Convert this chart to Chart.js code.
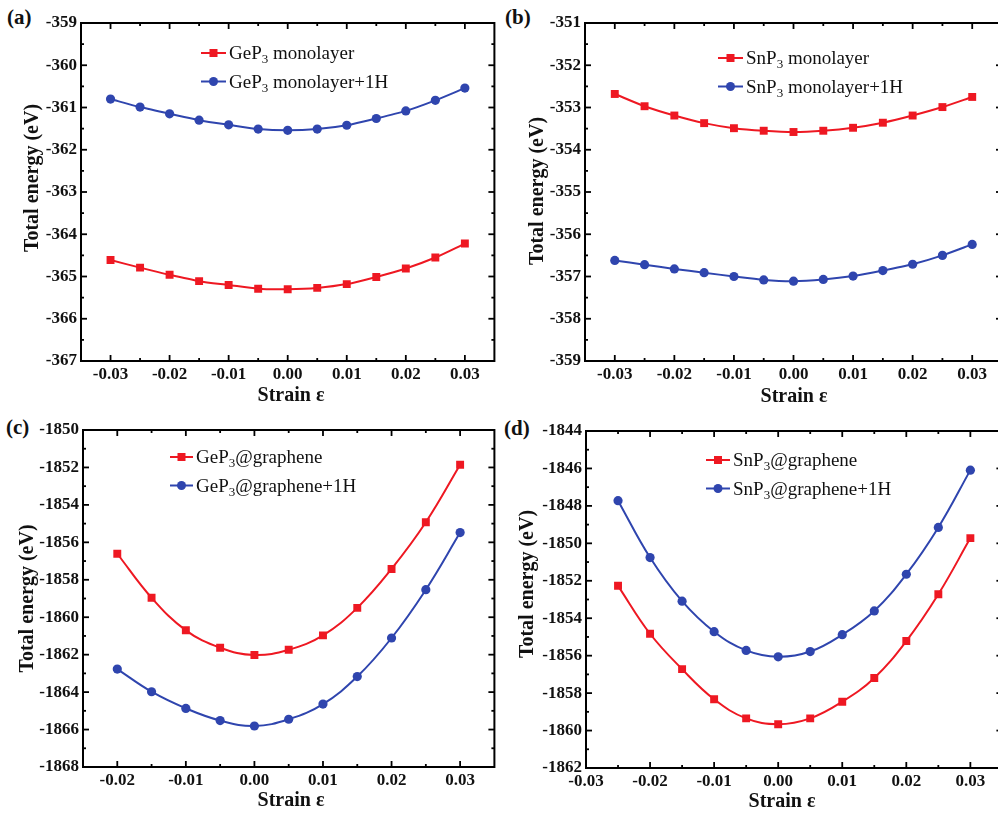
<!DOCTYPE html>
<html>
<head>
<meta charset="utf-8">
<script src="https://cdn.jsdelivr.net/npm/chart.js@4.4.0/dist/chart.umd.min.js"></script>
<style>
  html, body { margin: 0; padding: 0; background: #fff; width: 998px; height: 814px; overflow: hidden; }
  canvas { position: absolute; }
  .tag { position: absolute; font: bold 21px "Liberation Serif", "Times New Roman", serif; line-height: 21px; color: #111; }
</style>
</head>
<body>
<div class="tag" style="left:7px;top:7px">(a)</div>
<div class="tag" style="left:505px;top:7px">(b)</div>
<div class="tag" style="left:6px;top:417px">(c)</div>
<div class="tag" style="left:504px;top:418px">(d)</div>

<canvas id="ca" width="500" height="405" style="left:0;top:0"></canvas>
<canvas id="cb" width="510" height="405" style="left:498px;top:0"></canvas>
<canvas id="cc" width="500" height="409" style="left:0;top:405px"></canvas>
<canvas id="cd" width="510" height="409" style="left:498px;top:405px"></canvas>

<script>
// ---- strain values (x) ----
const strainMono = [-0.03, -0.025, -0.02, -0.015, -0.01, -0.005, 0, 0.005, 0.01, 0.015, 0.02, 0.025, 0.03];
const strainGeGr = [-0.02, -0.015, -0.01, -0.005, 0, 0.005, 0.01, 0.015, 0.02, 0.025, 0.03];
const strainSnGr = [-0.025, -0.02, -0.015, -0.01, -0.005, 0, 0.005, 0.01, 0.015, 0.02, 0.025, 0.03];

// ---- total energies (eV) ----
const gep3Mono  = [-364.61, -364.79, -364.96, -365.11, -365.20, -365.29, -365.30, -365.27, -365.18, -365.01, -364.81, -364.55, -364.22];
const gep3MonoH = [-360.80, -360.99, -361.15, -361.30, -361.41, -361.51, -361.54, -361.51, -361.42, -361.26, -361.08, -360.83, -360.54];
const snp3Mono  = [-352.68, -352.97, -353.19, -353.37, -353.49, -353.55, -353.58, -353.55, -353.48, -353.36, -353.19, -352.99, -352.75];
const snp3MonoH = [-356.62, -356.72, -356.82, -356.91, -357.00, -357.08, -357.11, -357.07, -356.99, -356.86, -356.71, -356.50, -356.24];
const gep3Gr    = [-1856.61, -1858.96, -1860.70, -1861.63, -1862.02, -1861.74, -1860.97, -1859.50, -1857.42, -1854.93, -1851.86];
const gep3GrH   = [-1862.77, -1863.98, -1864.87, -1865.52, -1865.81, -1865.45, -1864.64, -1863.17, -1861.11, -1858.53, -1855.48];
const snp3Gr    = [-1852.27, -1854.83, -1856.72, -1858.33, -1859.35, -1859.66, -1859.35, -1858.46, -1857.19, -1855.22, -1852.72, -1849.72];
const snp3GrH   = [-1847.72, -1850.76, -1853.09, -1854.72, -1855.72, -1856.06, -1855.78, -1854.88, -1853.61, -1851.65, -1849.15, -1846.09];

// ---- tick labels ----
const xTicksMono = [-0.03, -0.02, -0.01, 0, 0.01, 0.02, 0.03];
const xTicksGeGr = [-0.02, -0.01, 0, 0.01, 0.02, 0.03];
const xTicksSnGr = [-0.03, -0.02, -0.01, 0, 0.01, 0.02, 0.03];
const yTicksA = [-367, -366, -365, -364, -363, -362, -361, -360, -359];
const yTicksB = [-359, -358, -357, -356, -355, -354, -353, -352, -351];
const yTicksC = [-1868, -1866, -1864, -1862, -1860, -1858, -1856, -1854, -1852, -1850];
const yTicksD = [-1862, -1860, -1858, -1856, -1854, -1852, -1850, -1848, -1846, -1844];

// ---- series names ----
const namesA = ['GeP₃ monolayer', 'GeP₃ monolayer+1H'];
const namesB = ['SnP₃ monolayer', 'SnP₃ monolayer+1H'];
const namesC = ['GeP₃@graphene', 'GeP₃@graphene+1H'];
const namesD = ['SnP₃@graphene', 'SnP₃@graphene+1H'];

const RED = '#ee1822';
const BLUE = '#2f45ae';
const SERIF = '"Liberation Serif", "Times New Roman", serif';

// Frame with inward ticks on all four sides, legend and axis titles.
const framePlugin = {
  id: 'frame',
  afterDraw(chart, args, o) {
    const { ctx, chartArea: a, scales: { x, y } } = chart;
    ctx.save();
    ctx.strokeStyle = '#000';
    ctx.lineCap = 'butt';
    const seg = (x0, y0, x1, y1) => { ctx.beginPath(); ctx.moveTo(x0, y0); ctx.lineTo(x1, y1); ctx.stroke(); };
    const mids = arr => arr.slice(1).map((v, i) => (v + arr[i]) / 2);

    ctx.lineWidth = 1.8;
    const xt = x.ticks.map(t => t.value), yt = y.ticks.map(t => t.value);
    xt.forEach(v => { const p = x.getPixelForValue(v); seg(p, a.bottom, p, a.bottom - 6); seg(p, a.top, p, a.top + 6); });
    mids(xt).forEach(v => { const p = x.getPixelForValue(v); seg(p, a.bottom, p, a.bottom - 3); seg(p, a.top, p, a.top + 3); });
    yt.forEach(v => { const p = y.getPixelForValue(v); seg(a.left, p, a.left + 6, p); seg(a.right, p, a.right - 6, p); });
    mids(yt).forEach(v => { const p = y.getPixelForValue(v); seg(a.left, p, a.left + 3, p); seg(a.right, p, a.right - 3, p); });

    ctx.lineWidth = 2;
    ctx.strokeRect(a.left, a.top, a.right - a.left, a.bottom - a.top);

    // legend
    const L = o.legend;
    chart.data.datasets.forEach((ds, i) => {
      const ry = L.y + i * L.gap;
      ctx.strokeStyle = ds.borderColor;
      ctx.lineWidth = 2;
      seg(L.x0, ry, L.x1, ry);
      ctx.fillStyle = ds.borderColor;
      const cx = (L.x0 + L.x1) / 2;
      if (ds.pointStyle === 'rect') ctx.fillRect(cx - 4, ry - 4, 8, 8);
      else { ctx.beginPath(); ctx.arc(cx, ry, 4.5, 0, Math.PI * 2); ctx.fill(); }
      // label with subscript digit
      ctx.fillStyle = '#111';
      ctx.textBaseline = 'alphabetic';
      ctx.textAlign = 'left';
      let tx = L.x1 + 3;
      const base = ry + 6;
      ds.label.split('₃').forEach((part, k) => {
        if (k > 0) {
          ctx.font = '13px ' + SERIF;
          ctx.fillText('3', tx, base + 4);
          tx += ctx.measureText('3').width;
        }
        ctx.font = '19px ' + SERIF;
        ctx.fillText(part, tx, base);
        tx += ctx.measureText(part).width;
      });
    });

    // axis titles
    ctx.fillStyle = '#111';
    ctx.font = 'bold 20px ' + SERIF;
    ctx.textAlign = 'center';
    ctx.textBaseline = 'alphabetic';
    ctx.fillText('Strain ε', o.xTitle.x, o.xTitle.y);
    ctx.save();
    ctx.translate(o.yTitle.x, o.yTitle.y);
    ctx.rotate(-Math.PI / 2);
    ctx.textBaseline = 'middle';
    ctx.fillText('Total energy (eV)', 0, 0);
    ctx.restore();

    ctx.restore();
  }
};

function series(label, xs, ys, color, style, tension) {
  return {
    label,
    data: xs.map((v, i) => ({ x: v, y: ys[i] })),
    borderColor: color,
    backgroundColor: color,
    borderWidth: 2,
    pointStyle: style,
    pointRadius: style === 'rect' ? 5.6 : 4.6,
    pointBorderWidth: 0,
    tension
  };
}

function panel(id, p) {
  new Chart(document.getElementById(id), {
    type: 'line',
    data: { datasets: p.datasets },
    plugins: [framePlugin],
    options: {
      responsive: false,
      animation: false,
      layout: { padding: { top: p.padTop, right: p.padRight, left: 0, bottom: 0 } },
      plugins: {
        legend: { display: false },
        tooltip: { enabled: false },
        frame: { legend: p.legend, xTitle: p.xTitle, yTitle: p.yTitle }
      },
      scales: {
        x: {
          type: 'linear', min: p.xMin, max: p.xMax,
          afterBuildTicks: s => { s.ticks = p.xTicks.map(v => ({ value: v })); },
          afterFit: s => { s.height = p.xH; },
          grid: { display: false, drawTicks: false },
          border: { display: false },
          ticks: {
            autoSkip: false, maxRotation: 0, padding: 3, color: '#111',
            font: { family: SERIF, size: 17, weight: 'bold' },
            callback: v => Number(v).toFixed(2)
          }
        },
        y: {
          type: 'linear', min: p.yTicks[0], max: p.yTicks[p.yTicks.length - 1],
          afterBuildTicks: s => { s.ticks = p.yTicks.map(v => ({ value: v })); },
          afterFit: s => { s.width = p.yW; },
          grid: { display: false, drawTicks: false },
          border: { display: false },
          ticks: {
            autoSkip: false, padding: 4, color: '#111',
            font: { family: SERIF, size: 17, weight: 'bold' },
            callback: v => String(v)
          }
        }
      }
    }
  });
}

panel('ca', {
  datasets: [
    series(namesA[0], strainMono, gep3Mono, RED, 'rect', 0.25),
    series(namesA[1], strainMono, gep3MonoH, BLUE, 'circle', 0.25)
  ],
  xMin: -0.035, xMax: 0.035, xTicks: xTicksMono, yTicks: yTicksA,
  padTop: 23, padRight: 3, yW: 81, xH: 44,
  legend: { x0: 201, x1: 226, y: 53, gap: 28.5 },
  xTitle: { x: 291, y: 401 }, yTitle: { x: 33, y: 178 }
});

panel('cb', {
  datasets: [
    series(namesB[0], strainMono, snp3Mono, RED, 'rect', 0.25),
    series(namesB[1], strainMono, snp3MonoH, BLUE, 'circle', 0.25)
  ],
  xMin: -0.035, xMax: 0.035, xTicks: xTicksMono, yTicks: yTicksB,
  padTop: 23, padRight: 6, yW: 87, xH: 44,
  legend: { x0: 220, x1: 245, y: 58, gap: 28.5 },
  xTitle: { x: 296, y: 402 }, yTitle: { x: 40, y: 191 }
});

panel('cc', {
  datasets: [
    series(namesC[0], strainGeGr, gep3Gr, RED, 'rect', 0.4),
    series(namesC[1], strainGeGr, gep3GrH, BLUE, 'circle', 0.4)
  ],
  xMin: -0.025, xMax: 0.035, xTicks: xTicksGeGr, yTicks: yTicksC,
  padTop: 25, padRight: 2, yW: 83, xH: 47,
  legend: { x0: 170, x1: 193, y: 52, gap: 28.5 },
  xTitle: { x: 291, y: 401 }, yTitle: { x: 27.5, y: 193.5 }
});

panel('cd', {
  datasets: [
    series(namesD[0], strainSnGr, snp3Gr, RED, 'rect', 0.4),
    series(namesD[1], strainSnGr, snp3GrH, BLUE, 'circle', 0.4)
  ],
  xMin: -0.03, xMax: 0.035, xTicks: xTicksSnGr, yTicks: yTicksD,
  padTop: 26, padRight: 5, yW: 88, xH: 46,
  legend: { x0: 208, x1: 232, y: 55, gap: 28.5 },
  xTitle: { x: 284, y: 402 }, yTitle: { x: 29.5, y: 179 }
});
</script>
</body>
</html>
